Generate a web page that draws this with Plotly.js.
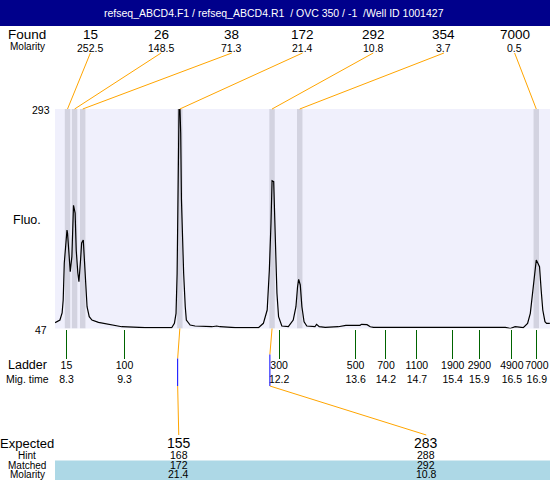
<!DOCTYPE html>
<html><head><meta charset="utf-8">
<script src="https://cdn.plot.ly/plotly-3.0.1.min.js"></script>
<style>html,body{margin:0;padding:0;background:#fff}#chart{width:550px;height:480px}</style>
</head><body><div id="chart"></div>
<script>
// ---------- data ----------
const titleText = "refseq_ABCD4.F1 / refseq_ABCD4.R1\u00A0\u00A0/ OVC 350 / -1\u00A0\u00A0/Well ID 1001427";
const foundSize = [15, 26, 38, 172, 292, 354, 7000];
const foundMolarity = ["252.5", "148.5", "71.3", "21.4", "10.8", "3.7", "0.5"];
const foundTime = [8.29, 8.42, 8.57, 10.36, 12.06, 12.57, 16.93];
const ladderSize = [15, 100, 300, 500, 700, 1100, 1900, 2900, 4900, 7000];
const ladderTime = [8.27, 9.34, 12.19, 13.60, 14.16, 14.73, 15.39, 15.88, 16.48, 16.94];
const expectedSize = [155, 283];
const hintSize = [168, 288];
const matchedSize = [172, 292];
const matchedMolarity = ["21.4", "10.8"];
const matchedAlignTime = [10.32, 12.02];
const traceTime = [8.06,8.15,8.19,8.21,8.23,8.26,8.28,8.29,8.32,8.34,8.37,8.39,8.40,8.43,8.45,8.48,8.50,8.53,8.55,8.58,
  8.60,8.63,8.65,8.69,8.74,8.86,9.04,9.29,9.72,10.21,10.26,10.29,10.31,10.32,10.33,10.345,10.363,10.376,10.39,10.41,
  10.43,10.46,10.48,10.55,10.64,10.95,11.04,11.10,11.38,11.81,11.90,11.97,12.01,12.04,12.06,12.09,12.11,12.13,12.15,12.18,
  12.24,12.36,12.45,12.50,12.53,12.55,12.58,12.61,12.65,12.70,12.85,12.88,12.93,13.04,13.28,13.42,13.68,13.71,13.81,13.87,
  13.93,15.25,15.34,16.14,16.36,16.45,16.54,16.69,16.77,16.82,16.85,16.89,16.93,16.96,16.99,17.02,17.05,17.09,17.12,17.18];
const traceFluo = [53.5,56.5,64.4,78.9,120.4,146.2,157.4,154,123.8,110.7,127.5,168.6,185.1,176.4,135,109.2,99.4,123.8,142.8,146.2,
  127.5,90.1,71.4,60.2,56.5,53.9,51.7,49,47.9,47.9,52.8,64,108.9,191,239.5,293,293,266,191,146.2,
  109.2,71.4,56.5,50.9,49.8,49,49.8,49,47.9,47.9,52.8,67.7,112.6,164.9,212.6,211.5,179.9,127.5,86.4,60.2,
  49.8,49,56.5,71.4,93.8,102.1,95.8,71.4,54.6,49.8,49,51.7,49,48.3,49,50.6,50.6,51.7,51.3,49,
  48.3,48.3,49,48.3,48.3,47,49,47.9,52.8,64,82.6,105,123.8,120.1,116.3,90.1,67.7,54.6,52.8,52.8];
const yMin = 47, yMax = 293;

// ---------- layout helpers ----------
const W = 550, H = 480;
const PL = 55, PR = 550, PT = 109, PB = 328.5;
const XR = [8.059, 17.183];
const FONT = "Liberation Sans, Arial, sans-serif";
const px = x => x / W;
const py = y => 1 - y / H;
const pxToTime = x => XR[0] + (x - PL) / (PR - PL) * (XR[1] - XR[0]);
const slot = (i, n) => PL + (PR - PL) * (i + 0.5) / n;

const annotations = [];
function txt(text, x, y, size, opts) {
  annotations.push(Object.assign({
    text: text, xref: 'paper', yref: 'paper', x: px(x), y: py(y),
    xanchor: 'center', yanchor: 'middle', showarrow: false, borderpad: 0,
    font: {family: FONT, size: size, color: '#000'}
  }, opts || {}));
}
const shapes = [];
const ORANGE = '#FFA500';

// title bar
shapes.push({type: 'rect', xref: 'paper', yref: 'paper', x0: 0, x1: 1, y0: py(26), y1: 1,
  fillcolor: '#00008B', line: {width: 0}, layer: 'below'});
txt(titleText, 274, 13.5, 10.5, {font: {family: FONT, size: 10.5, color: '#fff'}});

// found row
txt('Found', 27, 34.5, 13.5);
txt('Molarity', 27, 47, 10);
foundSize.forEach((s, i) => {
  const cx = slot(i, foundSize.length);
  txt(String(s), cx, 34.5, 13.5);
  txt(foundMolarity[i], cx, 47.5, 10.5);
  shapes.push({type: 'line', xref: 'x', yref: 'paper', x0: pxToTime(cx), y0: py(53),
    x1: foundTime[i], y1: py(PT), line: {color: ORANGE, width: 1}});
  shapes.push({type: 'rect', xref: 'x', yref: 'y', x0: foundTime[i] - 0.05, x1: foundTime[i] + 0.05,
    y0: yMin, y1: yMax, fillcolor: '#D3D3E0', line: {width: 0}, layer: 'below'});
});

// y labels
txt('Fluo.', 27, 220, 12.5);
txt(String(yMax), 41, 0, 10.5, {yref: 'y', y: yMax, yshift: -1.5});
txt(String(yMin), 41, 0, 10.5, {yref: 'y', y: yMin, yshift: -1.5});

// ladder row labels
txt('Ladder', 27, 364.5, 12.5);
txt('Mig. time', 27, 378.5, 10.5);

// expected rows
shapes.push({type: 'rect', xref: 'paper', yref: 'paper', x0: px(PL), x1: 1, y0: 0, y1: py(460.5),
  fillcolor: '#ADD8E6', line: {width: 0}, layer: 'below'});
txt('Expected', 27, 443, 13);
txt('Hint', 27, 455, 10);
txt('Matched', 27, 465, 10);
txt('Molarity', 27, 474, 10);
const splitY = [358.5, 354.5];
expectedSize.forEach((s, j) => {
  const cx = slot(j, expectedSize.length);
  txt(String(s), cx, 443, 14);
  txt(String(hintSize[j]), cx, 455, 10.5);
  txt(String(matchedSize[j]), cx, 465, 10.5);
  txt(matchedMolarity[j], cx, 474, 10.5);
  const tPeak = foundTime[foundSize.indexOf(matchedSize[j])];
  const tA = matchedAlignTime[j];
  shapes.push({type: 'line', xref: 'x', yref: 'paper', x0: tPeak, y0: py(PB), x1: tA, y1: py(splitY[j]),
    line: {color: ORANGE, width: 1}});
  shapes.push({type: 'line', xref: 'x', yref: 'paper', x0: tA, y0: py(splitY[j]), x1: tA, y1: py(386),
    line: {color: '#0000FF', width: 1}});
  shapes.push({type: 'line', xref: 'x', yref: 'paper', x0: tA, y0: py(386), x1: pxToTime(cx), y1: py(435),
    line: {color: ORANGE, width: 1}});
});

const trace = {
  x: traceTime, y: traceFluo, type: 'scatter', mode: 'lines',
  line: {color: '#000', width: 1.2}, hoverinfo: 'skip'
};

const layout = {
  width: W, height: H, margin: {l: 0, r: 0, t: 0, b: 0, pad: 0},
  paper_bgcolor: '#fff', plot_bgcolor: '#F0F0FC', showlegend: false,
  xaxis: {
    domain: [px(PL), px(PR)], range: XR, showgrid: false, zeroline: false, showline: false,
    tickmode: 'array', tickvals: ladderTime,
    ticktext: ladderSize.map((s, i) => s + '<br>' + ladderTime[i].toFixed(1)),
    ticks: 'outside', ticklen: 29, tickwidth: 1, tickcolor: '#006400', tickangle: 0,
    ticklabelstandoff: -2,
    tickfont: {family: FONT, size: 10.5, color: '#000'}, fixedrange: true
  },
  yaxis: {
    domain: [py(PB), py(PT)], range: [yMin, yMax], showgrid: false, zeroline: false,
    showline: false, showticklabels: false, ticks: '', fixedrange: true
  },
  shapes: shapes, annotations: annotations
};
Plotly.newPlot('chart', [trace], layout, {displayModeBar: false, staticPlot: true});
</script></body></html>
